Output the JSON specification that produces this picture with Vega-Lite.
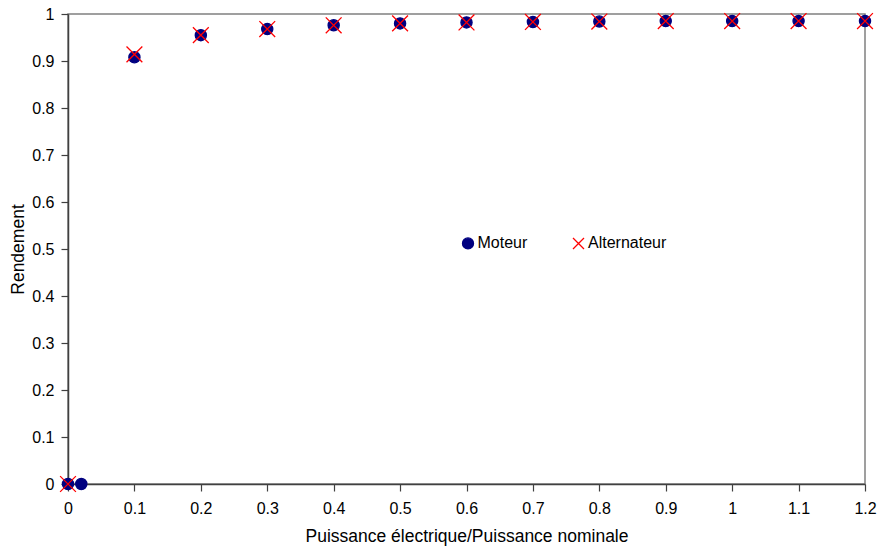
{
  "$schema": "https://vega.github.io/schema/vega-lite/v6.json",
  "width": 797,
  "height": 470,
  "autosize": "none",
  "padding": {"left": 68, "top": 14, "right": 12, "bottom": 66},
  "background": "white",
  "config": {
    "font": "Liberation Sans",
    "view": {"stroke": "#808080", "strokeWidth": 1.5},
    "axis": {"grid": false, "domainColor": "#404040", "domainWidth": 1.5, "tickColor": "#404040", "tickWidth": 1.2, "tickSize": 7, "labelColor": "#000", "titleColor": "#000", "labelFontSize": 16, "titleFontSize": 17.5, "titleFontWeight": "normal", "labelFont": "Liberation Sans", "titleFont": "Liberation Sans"},
    "legend": {"title": null, "orient": "none", "direction": "horizontal", "legendX": 392, "legendY": 221, "labelFontSize": 16, "labelFont": "Liberation Sans", "labelColor": "#000", "symbolSize": 121, "columnPadding": 41.5, "labelOffset": 1.5, "padding": 0, "symbolStrokeWidth": 1.3}
  },
  "data": {
    "values": [
      {"x": 0, "y": 0, "serie": "Moteur"},
      {"x": 0.02, "y": 0, "serie": "Moteur"},
      {"x": 0.1, "y": 0.908, "serie": "Moteur"},
      {"x": 0.2, "y": 0.955, "serie": "Moteur"},
      {"x": 0.3, "y": 0.968, "serie": "Moteur"},
      {"x": 0.4, "y": 0.976, "serie": "Moteur"},
      {"x": 0.5, "y": 0.98, "serie": "Moteur"},
      {"x": 0.6, "y": 0.982, "serie": "Moteur"},
      {"x": 0.7, "y": 0.983, "serie": "Moteur"},
      {"x": 0.8, "y": 0.984, "serie": "Moteur"},
      {"x": 0.9, "y": 0.985, "serie": "Moteur"},
      {"x": 1.0, "y": 0.985, "serie": "Moteur"},
      {"x": 1.1, "y": 0.985, "serie": "Moteur"},
      {"x": 1.2, "y": 0.985, "serie": "Moteur"},
      {"x": 0, "y": 0, "serie": "Alternateur"},
      {"x": 0.1, "y": 0.914, "serie": "Alternateur"},
      {"x": 0.2, "y": 0.955, "serie": "Alternateur"},
      {"x": 0.3, "y": 0.968, "serie": "Alternateur"},
      {"x": 0.4, "y": 0.976, "serie": "Alternateur"},
      {"x": 0.5, "y": 0.98, "serie": "Alternateur"},
      {"x": 0.6, "y": 0.982, "serie": "Alternateur"},
      {"x": 0.7, "y": 0.983, "serie": "Alternateur"},
      {"x": 0.8, "y": 0.984, "serie": "Alternateur"},
      {"x": 0.9, "y": 0.985, "serie": "Alternateur"},
      {"x": 1.0, "y": 0.985, "serie": "Alternateur"},
      {"x": 1.1, "y": 0.985, "serie": "Alternateur"},
      {"x": 1.2, "y": 0.985, "serie": "Alternateur"}
    ]
  },
  "encoding": {
    "x": {"field": "x", "type": "quantitative", "title": "Puissance électrique/Puissance nominale",
      "scale": {"domain": [0, 1.2], "nice": false, "zero": true},
      "axis": {"values": [0, 0.1, 0.2, 0.3, 0.4, 0.5, 0.6, 0.7, 0.8, 0.9, 1, 1.1, 1.2], "format": "~g", "labelPadding": 9, "titlePadding": 11, "labelFlush": false, "labelOverlap": false}},
    "y": {"field": "y", "type": "quantitative", "title": "Rendement",
      "scale": {"domain": [0, 1], "nice": false},
      "axis": {"values": [0, 0.1, 0.2, 0.3, 0.4, 0.5, 0.6, 0.7, 0.8, 0.9, 1], "format": "~g", "labelPadding": 7, "titlePadding": 4, "labelFlush": false, "labelOverlap": false}},
    "shape": {"field": "serie", "type": "nominal",
      "scale": {"domain": ["Moteur", "Alternateur"], "range": ["circle", "M-1,-1L1,1M-1,1L1,-1"]}},
    "fill": {"field": "serie", "type": "nominal",
      "scale": {"domain": ["Moteur", "Alternateur"], "range": ["#000080", "transparent"]}},
    "stroke": {"field": "serie", "type": "nominal",
      "scale": {"domain": ["Moteur", "Alternateur"], "range": ["#000080", "#ff0000"]}}
  },
  "layer": [
    {"transform": [{"filter": "datum.serie === 'Moteur'"}],
     "mark": {"type": "point", "size": 125, "strokeWidth": 1.3, "opacity": 1, "fillOpacity": 1}},
    {"transform": [{"filter": "datum.serie === 'Alternateur'"}],
     "mark": {"type": "point", "size": 250, "strokeWidth": 1.3, "opacity": 1, "fillOpacity": 1}}
  ]
}
